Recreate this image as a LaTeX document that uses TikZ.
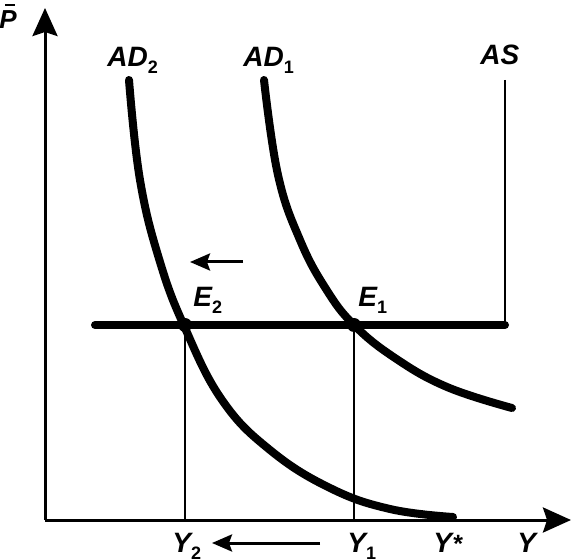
\documentclass[tikz,border=0pt]{standalone}
\usepackage{fontspec}
\setmainfont{Liberation Sans}
\usetikzlibrary{arrows.meta}
\newcommand{\lbl}[1]{{\fontsize{14pt}{16pt}\selectfont\bfseries\itshape #1}}
\newcommand{\sbs}[1]{\raisebox{-0.25em}{\fontsize{9pt}{10pt}\selectfont\bfseries\upshape #1}}
\begin{document}
\begin{tikzpicture}[x=0.5pt,y=-0.5pt,
  axisline/.style={line width=1.5pt,-{Stealth[length=14pt,width=12.5pt,inset=2pt]}},
  thinline/.style={line width=1.3pt},
  thickcurve/.style={line width=4pt,line cap=round},
  shiftarrow/.style={line width=1.5pt,-{Stealth[length=10pt,width=8.5pt,inset=1.5pt]}},
  eqdot/.style={circle,fill=black,inner sep=0pt,minimum size=7pt},
  txt/.style={inner sep=0pt,anchor=base west}]
\useasboundingbox (0,0) rectangle (572,560);
\coordinate (O) at (45,520);
\coordinate (Ptop) at (45,8);
\coordinate (Yend) at (571,520);
\coordinate (Hl) at (95,325);
\coordinate (Hr) at (505,325);
\coordinate (AStop) at (505,80);
\draw[axisline] (O) -- (Ptop);
\draw[axisline] (O) -- (Yend);
% AS vertical
\draw[thinline] (AStop) -- (Hr);
% price level line
\draw[line width=4pt,line cap=round] (Hl) -- (Hr);
% AD curves
\draw[thickcurve] plot[smooth,tension=0.7] coordinates {(129,80) (140,180) (160,262) (185,328) (222,400) (270,450) (330,488) (390,509) (453,517)};
\draw[thickcurve] plot[smooth,tension=0.7] coordinates {(264,80) (278,175) (300,240) (326,289) (354,325) (395,358) (447,387) (512,408)};
% equilibria
\node[eqdot] (E2) at (185,325) {};
\node[eqdot] (E1) at (354,325) {};
\draw[thinline] (E2.center) -- (E2.center |- O);
\draw[thinline] (E1.center) -- (E1.center |- O);
% shift arrows
\coordinate (a1s) at (243,262);
\coordinate (a1e) at (190,262);
\draw[shiftarrow] (a1s) -- (a1e);
\coordinate (a2s) at (320,543);
\coordinate (a2e) at (212,543);
\draw[shiftarrow] (a2s) -- (a2e);
% labels
\node[txt] (lP) at (-1,29) {\fontsize{13pt}{14pt}\selectfont\bfseries\itshape P};
\coordinate (barL) at (5,5);
\coordinate (barR) at (15,5);
\draw[line width=1.1pt] (barL) -- (barR);
\node[txt] (lAD2) at (107,67) {\lbl{AD\sbs{2}}};
\node[txt] (lAD1) at (243,67) {\lbl{AD\sbs{1}}};
\node[txt] (lAS) at (480,65) {\lbl{AS}};
\node[txt] (lE2) at (193,307) {\lbl{E\sbs{2}}};
\node[txt] (lE1) at (358,307) {\lbl{E\sbs{1}}};
\node[txt] (lY2) at (172,552) {\lbl{Y\sbs{2}}};
\node[txt] (lY1) at (347,552) {\lbl{Y\sbs{1}}};
\node[txt] (lYs) at (433,552) {\lbl{Y\kern0.05em{\fontsize{12.5pt}{12pt}\selectfont\bfseries\upshape *}}};
\node[txt] (lY) at (517,552) {\lbl{Y}};
\end{tikzpicture}
\end{document}
